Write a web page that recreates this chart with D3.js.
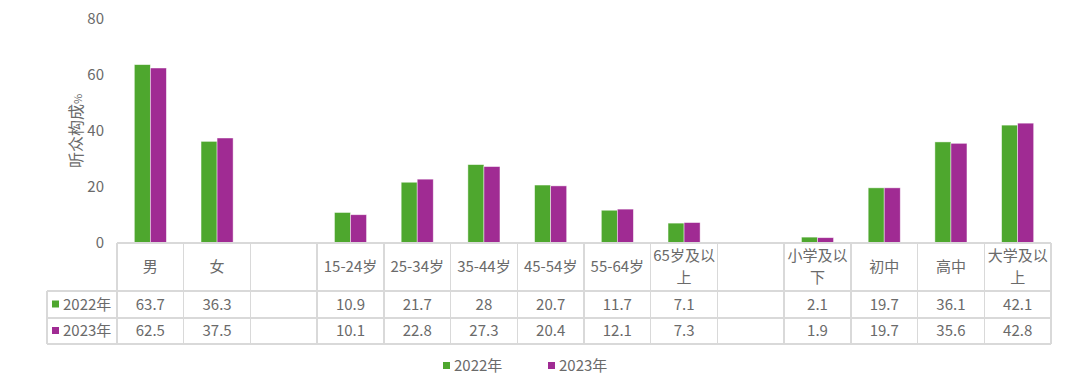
<!DOCTYPE html>
<html>
<head>
<meta charset="utf-8">
<script src="https://cdn.jsdelivr.net/npm/d3@7"></script>
<style>
  body { margin: 0; background: #fff; }
  text { font-family: "Noto Sans CJK SC", "Noto Sans", sans-serif; fill: #6a6a6a; }
</style>
</head>
<body>
<div id="chart"></div>
<script>
// --- data
const categories = ["男", "女", "", "15-24岁", "25-34岁", "35-44岁", "45-54岁", "55-64岁", "65岁及以上", "", "小学及以下", "初中", "高中", "大学及以上"];
const categoryLines = [["男"], ["女"], [""], ["15-24岁"], ["25-34岁"], ["35-44岁"], ["45-54岁"], ["55-64岁"], ["65岁及以", "上"], [""], ["小学及以", "下"], ["初中"], ["高中"], ["大学及以", "上"]];
const seriesNames = ["2022年", "2023年"];
const values2022 = [63.7, 36.3, null, 10.9, 21.7, 28, 20.7, 11.7, 7.1, null, 2.1, 19.7, 36.1, 42.1];
const values2023 = [62.5, 37.5, null, 10.1, 22.8, 27.3, 20.4, 12.1, 7.3, null, 1.9, 19.7, 35.6, 42.8];
const yTicks = [0, 20, 40, 60, 80];
const yLabel = "听众构成";

// --- style
const width = 1080, height = 386;
const margin = { top: 19, left: 117, right: 29 };
const plotBottom = 243;
const rowY = [243, 291, 318, 344];
const legendLeft = 47;
const colors = ["#4EA72E", "#A02B93"];
const gridColor = "#d9d9d9";

const svg = d3.select("#chart")
  .append("svg")
  .attr("width", width)
  .attr("height", height);

const x = d3.scaleBand()
  .domain(categories.map((d, i) => i))
  .range([margin.left, width - margin.right])
  .padding(0);

const xInner = d3.scaleBand()
  .domain([0, 1])
  .range([0, x.bandwidth()])
  .paddingInner(0)
  .paddingOuter(1.08);

const y = d3.scaleLinear()
  .domain([0, 80])
  .range([plotBottom, margin.top]);

// y axis labels
svg.append("g")
  .selectAll("text")
  .data(yTicks)
  .join("text")
  .attr("x", 104)
  .attr("y", d => y(d))
  .attr("dy", "0.35em")
  .attr("text-anchor", "end")
  .style("font-size", "15px")
  .text(d => d);

// axis title, "%" drawn smaller like the original
const title = svg.append("text")
  .attr("transform", "translate(76, 131) rotate(-90)")
  .attr("text-anchor", "middle")
  .attr("dy", "0.35em")
  .style("font-size", "16px");
title.append("tspan").text(yLabel);
title.append("tspan").style("font-size", "11px").text("%");

// bars
const series = [values2022, values2023];
svg.append("g")
  .selectAll("g")
  .data(series)
  .join("g")
  .attr("fill", (d, s) => colors[s])
  .selectAll("rect")
  .data((d, s) => d.map((v, i) => ({ v, i, s })).filter(o => o.v != null))
  .join("rect")
  .attr("x", d => x(d.i) + xInner(d.s))
  .attr("y", d => y(d.v))
  .attr("width", xInner.bandwidth())
  .attr("height", d => y(0) - y(d.v))
  .attr("stroke", "#fff")
  .attr("stroke-opacity", 0.6)
  .attr("stroke-width", 0.75);

// data table grid
const grid = svg.append("g")
  .attr("stroke", gridColor)
  .attr("stroke-width", 1.3)
  .attr("shape-rendering", "crispEdges");

grid.append("line")
  .attr("x1", margin.left).attr("x2", width - margin.right)
  .attr("y1", rowY[0]).attr("y2", rowY[0]);
rowY.slice(1).forEach(ry => {
  grid.append("line")
    .attr("x1", legendLeft).attr("x2", width - margin.right)
    .attr("y1", ry).attr("y2", ry);
});
grid.append("line")
  .attr("x1", legendLeft).attr("x2", legendLeft)
  .attr("y1", rowY[1]).attr("y2", rowY[3]);
grid.selectAll(".col")
  .data(categories.map((d, i) => i).concat([categories.length]))
  .join("line")
  .attr("class", "col")
  .attr("x1", i => i < categories.length ? x(i) : x.range()[1])
  .attr("x2", i => i < categories.length ? x(i) : x.range()[1])
  .attr("y1", rowY[0]).attr("y2", rowY[3]);

// header labels
const headerMid = (rowY[0] + rowY[1]) / 2;
svg.append("g")
  .selectAll("text")
  .data(categoryLines)
  .join("text")
  .attr("text-anchor", "middle")
  .style("font-size", "15px")
  .attr("x", (d, i) => x(i) + x.bandwidth() / 2)
  .each(function (lines) {
    const t = d3.select(this);
    const lh = 22;
    const start = headerMid - (lines.length - 1) * lh / 2;
    lines.forEach((ln, k) => {
      t.append("tspan")
        .attr("x", t.attr("x"))
        .attr("y", start + k * lh)
        .attr("dy", "0.35em")
        .text(ln);
    });
  });

// data rows
series.forEach((vals, s) => {
  const cy = (rowY[s + 1] + rowY[s + 2]) / 2;
  svg.append("g")
    .selectAll("text")
    .data(vals.map((v, i) => ({ v, i })).filter(o => o.v != null))
    .join("text")
    .attr("x", d => x(d.i) + x.bandwidth() / 2)
    .attr("y", cy)
    .attr("dy", "0.35em")
    .attr("text-anchor", "middle")
    .style("font-size", "15px")
    .text(d => d.v);

  svg.append("rect")
    .attr("x", 52).attr("y", cy - 4)
    .attr("width", 7).attr("height", 7)
    .attr("fill", colors[s]);
  svg.append("text")
    .attr("x", 63).attr("y", cy)
    .attr("dy", "0.35em")
    .style("font-size", "15px")
    .text(seriesNames[s]);
});

// legend
const legendX = [443, 548];
const legendY = 366;
seriesNames.forEach((name, s) => {
  svg.append("rect")
    .attr("x", legendX[s]).attr("y", legendY - 4)
    .attr("width", 7).attr("height", 7)
    .attr("fill", colors[s]);
  svg.append("text")
    .attr("x", legendX[s] + 11).attr("y", legendY)
    .attr("dy", "0.35em")
    .style("font-size", "15px")
    .text(name);
});
</script>
</body>
</html>
